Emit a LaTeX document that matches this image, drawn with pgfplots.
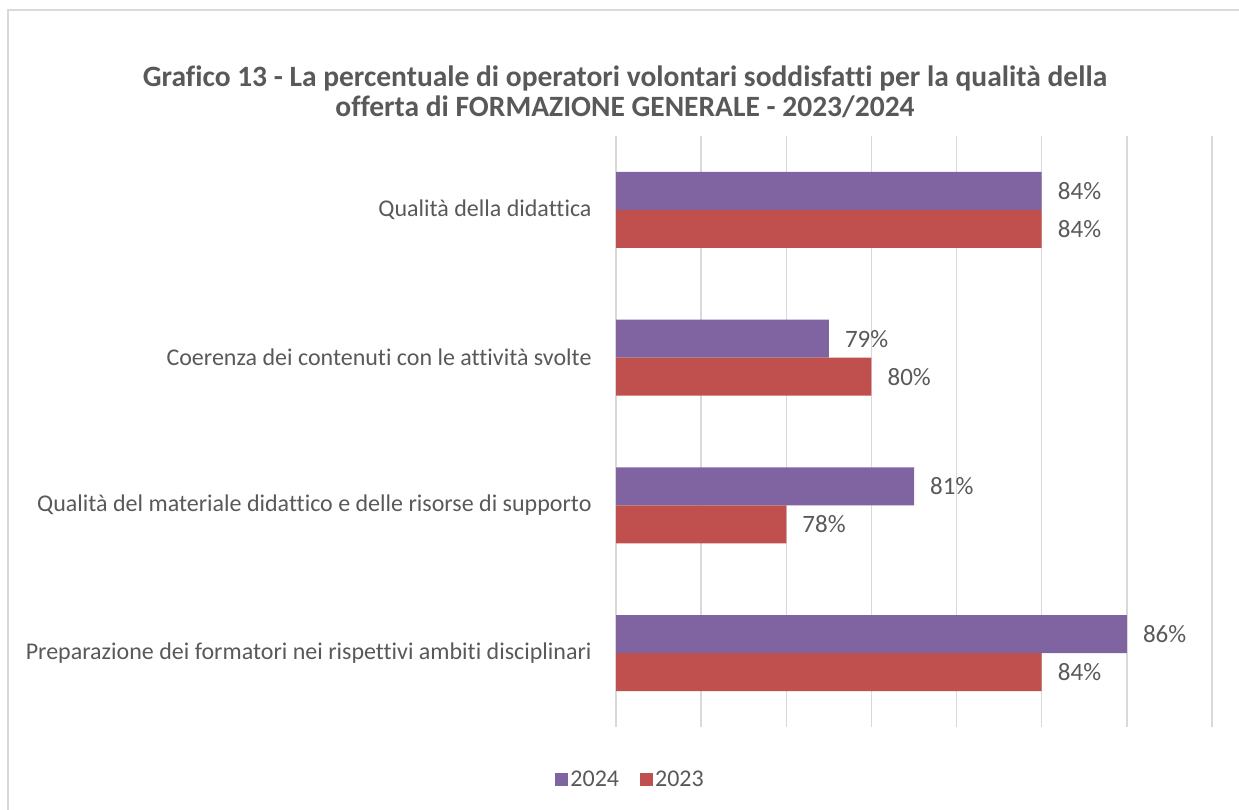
\documentclass[border=0pt]{standalone}
\usepackage{pgfplots}
\pgfplotsset{compat=1.18}
\usepackage{fontspec}
\setmainfont{Carlito}[Ligatures=NoCommon]
\definecolor{cpurple}{HTML}{8064A2}
\definecolor{cred}{HTML}{C0504D}
\definecolor{ctext}{HTML}{595959}
\definecolor{cgrid}{HTML}{D9D9D9}
\begin{document}
\begin{tikzpicture}[x=1pt,y=1pt]
\path[use as bounding box] (0,0) rectangle (1239,810);
\draw[cgrid, line width=1.5pt] (8,-20) -- (8,800) -- (1260,800);
\node[text=ctext, font=\fontsize{29.5}{30}\selectfont\bfseries, align=center] at (625,718) {Grafico 13 - La percentuale di operatori volontari soddisfatti per la qualità della\\offerta di FORMAZIONE GENERALE - 2023/2024};
\begin{axis}[
  at={(616pt,83pt)}, anchor=south west,
  scale only axis, width=596pt, height=591pt,
  xbar, bar width=38pt,
  xmin=74, xmax=88, ymin=-0.5, ymax=3.5,
  xtick={74,76,...,88}, xticklabel=\empty,
  xmajorgrids, major grid style={cgrid, line width=1.5pt},
  axis line style={draw=none}, major tick style={draw=none},
  ytick={0,1,2,3},
  yticklabels={Preparazione dei formatori nei rispettivi ambiti disciplinari, Qualità del materiale didattico e delle risorse di supporto, Coerenza dei contenuti con le attività svolte, Qualità della didattica},
  yticklabel style={font=\fontsize{24}{28}\selectfont, text=ctext, inner sep=0pt, xshift=-20pt},
  /pgf/number format/assume math mode=true,
  nodes near coords={\pgfmathprintnumber{\pgfplotspointmeta}\%},
  nodes near coords style={anchor=west, inner sep=0pt, xshift=16pt, text=ctext, font=\fontsize{25}{28}\selectfont},
  legend style={at={(0.0245,-0.088)}, anchor=center, draw=none, legend columns=2,
    font=\fontsize{24}{28}\selectfont, text=ctext, inner sep=0pt,
    /tikz/every even column/.append style={column sep=19pt},
    /tikz/every odd column/.append style={column sep=0pt},
    nodes={inner sep=2pt}},
  legend image code/.code={\fill[#1] (0pt,-6.5pt) rectangle (13pt,6.5pt);},
]
\addplot[fill=cpurple, draw=none, bar shift=19pt] coordinates {(86,0) (81,1) (79,2) (84,3)};
\addlegendentry{2024}
\addplot[fill=cred, draw=none, bar shift=-19pt] coordinates {(84,0) (78,1) (80,2) (84,3)};
\addlegendentry{2023}
\end{axis}
\end{tikzpicture}
\end{document}
